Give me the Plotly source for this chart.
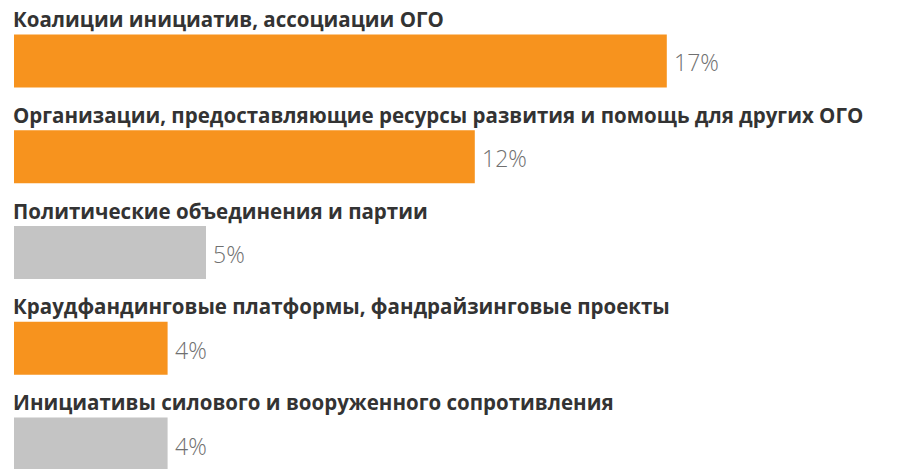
import plotly.graph_objects as go

categories = [
    "Коалиции инициатив, ассоциации ОГО",
    "Организации, предоставляющие ресурсы развития и помощь для других ОГО",
    "Политические объединения и партии",
    "Краудфандинговые платформы, фандрайзинговые проекты",
    "Инициативы силового и вооруженного сопротивления",
]
values = [17, 12, 5, 4, 4]
value_labels = ["17%", "12%", "5%", "4%", "4%"]
highlight = [True, True, False, True, False]

ORANGE = "#F7931E"
GRAY = "#C4C4C4"
colors = [ORANGE if h else GRAY for h in highlight]

fig = go.Figure(
    go.Bar(
        x=values,
        y=categories,
        orientation="h",
        marker=dict(color=colors, line=dict(width=0)),
        width=0.553,
        hoverinfo="skip",
    )
)

for cat, v, lab in zip(categories, values, value_labels):
    fig.add_annotation(
        x=0, y=cat, xref="x", yref="y", text=cat,
        showarrow=False, xanchor="left", yanchor="middle", yshift=42, xshift=-3,
        font=dict(family="Open Sans", size=20.5, color="#333333", weight=700),
    )
    fig.add_annotation(
        x=v, y=cat, xref="x", yref="y", text=lab,
        showarrow=False, xanchor="left", yanchor="middle", xshift=5, yshift=-1.5,
        font=dict(family="Open Sans", size=23, color="#707070", weight=300),
    )

fig.update_layout(
    width=922, height=469,
    margin=dict(l=14, r=0, t=0, b=0),
    paper_bgcolor="white", plot_bgcolor="white",
    showlegend=False,
    xaxis=dict(range=[0, 908 / 38.4], visible=False, fixedrange=True),
    yaxis=dict(
        type="category", categoryorder="array", categoryarray=categories,
        range=[4.261, -0.637], visible=False, fixedrange=True,
    ),
)

fig.write_html(
    "out.html",
    config={"displayModeBar": False},
    post_script="document.body.style.margin='0';",
)
